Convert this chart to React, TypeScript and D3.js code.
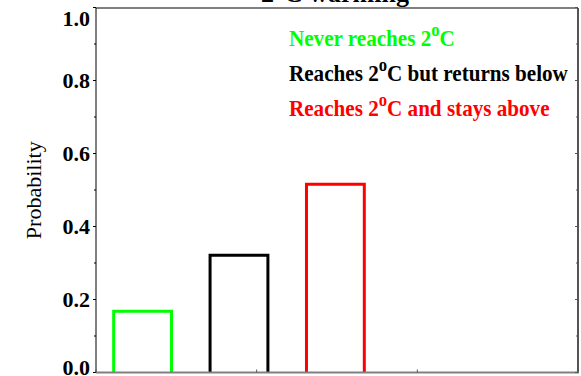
import React from "react";
import * as d3 from "d3";

const categories = ["Never reaches 2", "Reaches 2", "Reaches 2"];
const categorySuffixes = ["C", "C but returns below", "C and stays above"];
const values = [0.168, 0.321, 0.516];
const colors = ["#00ff00", "#000000", "#ff0000"];
const yTicks = [0, 0.2, 0.4, 0.6, 0.8, 1.0];
const yMinorTicks = [0.1, 0.3, 0.5, 0.7, 0.9];
const xTicks = [0, 1, 2, 3];
const title = ["2", "C warming"];
const yLabel = "Probability";

const W = 581;
const H = 376;
const left = 96;
const right = 578;
const top = 7.5;
const bottom = 372.5;

export default function App() {
  const x = d3.scaleLinear().domain([0, 3]).range([left, right]);
  const y = d3.scaleLinear().domain([0, 1]).range([bottom, top]);
  const font = "'Liberation Serif', 'Times New Roman', serif";
  return (
    <svg
      width={W}
      height={H}
      style={{ position: "absolute", left: 0, top: 0, background: "#fff" }}
      fontFamily={font}
    >
      <rect x={0} y={0} width={W} height={H} fill="#fff" />
      {/* title */}
      <text x={(left + right) / 2 - 2} y={2} textAnchor="middle" fontSize={26} fontWeight="bold">
        {title[0]}
        <tspan fontSize={20} dy={-11}>o</tspan>
        <tspan dy={11}>{title[1]}</tspan>
      </text>
      {/* frame */}
      <line x1={left} x2={right} y1={8} y2={8} stroke="#000" strokeWidth={1} />
      <line x1={left} x2={left} y1={8} y2={bottom} stroke="#000" strokeWidth={1} />
      <line x1={right} x2={right} y1={8} y2={bottom} stroke="#555" strokeWidth={2} />
      {/* bars */}
      {values.map((v, i) => {
        const x0 = x(0.11 + 0.6 * i);
        const x1 = x(0.11 + 0.6 * i + 0.36);
        const yt = y(v);
        return (
          <path
            key={i}
            d={`M${x0},${bottom}V${yt}H${x1}V${bottom}`}
            fill="none"
            stroke={colors[i]}
            strokeWidth={3}
          />
        );
      })}
      <line x1={left} x2={right + 1} y1={bottom} y2={bottom} stroke="#808080" strokeWidth={2} />
      {/* y ticks */}
      {yTicks.map((t) => (
        <g key={t}>
          <line x1={left - 3} x2={left} y1={y(t)} y2={y(t)} stroke="#000" />
          <line x1={right - 3} x2={right} y1={y(t)} y2={y(t)} stroke="#555" />
          <text
            x={left - 6}
            y={Math.min(Math.max(y(t), 18), 367)}
            textAnchor="end"
            dominantBaseline="central"
            fontSize={22}
            fontWeight="bold"
          >
            {d3.format(".1f")(t)}
          </text>
        </g>
      ))}
      {yMinorTicks.map((t) => (
        <g key={t}>
          <line x1={left - 2} x2={left} y1={y(t)} y2={y(t)} stroke="#000" />
          <line x1={right - 2} x2={right} y1={y(t)} y2={y(t)} stroke="#555" />
        </g>
      ))}
      {xTicks.map((t) => (
        <line key={t} x1={x(t)} x2={x(t)} y1={bottom - 3} y2={bottom} stroke="#555" />
      ))}
      {/* y label */}
      <text
        transform={`translate(33,${(8 + bottom) / 2}) rotate(-90)`}
        textAnchor="middle"
        dominantBaseline="central"
        fontSize={22}
      >
        {yLabel}
      </text>
      {/* legend */}
      {categories.map((c, i) => (
        <text
          key={i}
          transform={`translate(289,${45.5 + 35 * i}) scale(0.88,1)`}
          fontSize={24}
          fontWeight="bold"
          fill={colors[i]}
        >
          {c}
          <tspan fontSize={19} dy={-10}>o</tspan>
          <tspan dy={10}>{categorySuffixes[i]}</tspan>
        </text>
      ))}
    </svg>
  );
}
